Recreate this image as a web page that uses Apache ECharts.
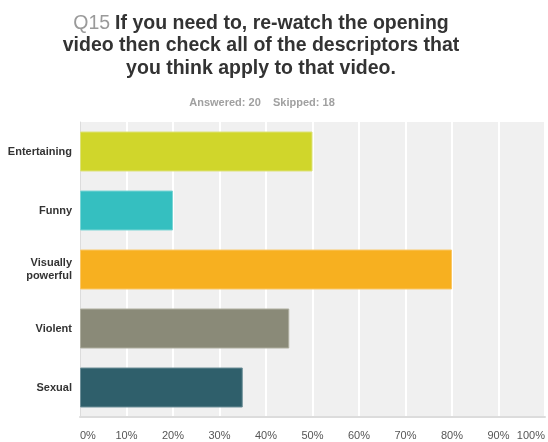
<!DOCTYPE html>
<html>
<head>
<meta charset="utf-8">
<script src="https://cdn.jsdelivr.net/npm/echarts@6/dist/echarts.min.js"></script>
<style>
html,body{margin:0;padding:0;background:#fff;}
#chart{width:548px;height:442px;}
</style>
</head>
<body>
<div id="chart"></div>
<script>
var categories = ['Entertaining', 'Funny', 'Visually powerful', 'Violent', 'Sexual'];
var percentValues = [50, 20, 80, 45, 35];
var barColors = ['#d0d62b', '#35bfc0', '#f7b020', '#8a8a78', '#2f5f6b'];
var barBorders = ['#dde27a', '#7cd6d6', '#fac868', '#aeae9f', '#6f9099'];
var xTicks = [0, 10, 20, 30, 40, 50, 60, 70, 80, 90, 100];

var font = 'Liberation Sans, Arial, sans-serif';
var chart = echarts.init(document.getElementById('chart'), null, {renderer: 'canvas'});
chart.setOption({
  backgroundColor: '#fff',
  animation: false,
  title: [{
    text: '{q|Q15} {b|If you need to, re-watch the opening}\n{b|video then check all of the descriptors that}\n{b|you think apply to that video.}',
    left: 256, top: 7, textAlign: 'center',
    textStyle: {
      fontFamily: font,
      rich: {
        q: {color: '#9a9a9a', fontSize: 19.5, fontWeight: 'normal', fontFamily: font, lineHeight: 22.5},
        b: {color: '#333', fontSize: 19.5, fontWeight: 'bold', fontFamily: font, lineHeight: 22.5}
      }
    }
  }, {
    text: 'Answered: 20    Skipped: 18',
    left: 257, top: 92, textAlign: 'center',
    textStyle: {fontFamily: font, fontSize: 11, fontWeight: 'bold', color: '#a0a0a0'}
  }],
  grid: {
    left: 80, top: 122, width: 470, height: 295,
    show: true, backgroundColor: '#f0f0f0', borderWidth: 0,
    containLabel: false
  },
  xAxis: {
    type: 'value', min: xTicks[0], max: xTicks[xTicks.length - 1], interval: 10,
    axisLine: {show: true, lineStyle: {color: '#dcdcdc', width: 2}},
    axisTick: {show: false},
    axisLabel: {
      formatter: '{value}%', color: '#555', fontSize: 11, fontFamily: font,
      margin: 13, alignMinLabel: 'left', alignMaxLabel: 'right'
    },
    splitLine: {show: true, lineStyle: {color: '#ffffff', width: 2}}
  },
  yAxis: {
    type: 'category', data: categories, inverse: true,
    axisLine: {show: true, lineStyle: {color: '#dcdcdc', width: 1}},
    axisTick: {show: false},
    axisLabel: {
      color: '#333', fontSize: 11, fontWeight: 'bold', fontFamily: font,
      margin: 8, lineHeight: 13,
      formatter: function (v) { return v.replace(' ', '\n'); }
    },
    splitLine: {show: false}
  },
  series: [{
    type: 'bar',
    data: percentValues.map(function (v, i) {
      return {value: v, itemStyle: {color: barColors[i], borderColor: barBorders[i], borderWidth: 1}};
    }),
    barWidth: 40
  }]
});
</script>
</body>
</html>
